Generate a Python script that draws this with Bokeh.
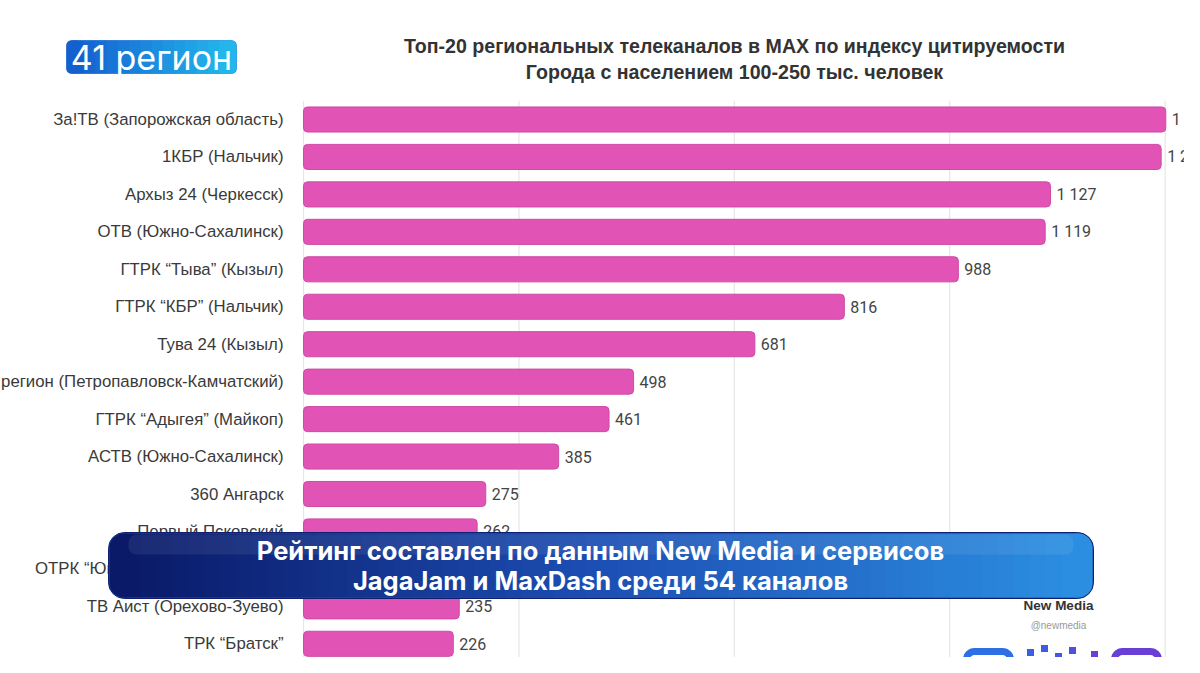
from bokeh.plotting import figure
from bokeh.models import Range1d, ColumnDataSource
from bokeh.core.properties import value
from bokeh.embed import file_html
from bokeh.resources import INLINE

# ---------------- data ----------------
channels = [
    "За!ТВ (Запорожская область)",
    "1КБР (Нальчик)",
    "Архыз 24 (Черкесск)",
    "ОТВ (Южно-Сахалинск)",
    "ГТРК “Тыва” (Кызыл)",
    "ГТРК “КБР” (Нальчик)",
    "Тува 24 (Кызыл)",
    "41 регион (Петропавловск-Камчатский)",
    "ГТРК “Адыгея” (Майкоп)",
    "АСТВ (Южно-Сахалинск)",
    "360 Ангарск",
    "Первый Псковский",
    "ОТРК “Югра” (Ханты-Мансийск)",
    "ТВ Аист (Орехово-Зуево)",
    "ТРК “Братск”",
]
citation_index = [1301, 1294, 1127, 1119, 988, 816, 681, 498, 461, 385, 275, 262, 248, 235, 226]
grid_ticks = [0, 325, 650, 975, 1300]

title_lines = [
    "Топ-20 региональных телеканалов в MAX по индексу цитируемости",
    "Города с населением 100-250 тыс. человек",
]
banner_lines = [
    "Рейтинг составлен по данным New Media и сервисов",
    "JagaJam и MaxDash среди 54 каналов",
]
logo_text = "41 регион"
source_name = "New Media"
source_handle = "@newmedia"

# ---------------- layout helpers (picture px -> data coords) ----------------
PX_PER_UNIT = 0.6628
ROW_PX = 37.45
X0 = 303.0
Y0 = 119.0
W, H = 1184, 657


def dx(px):
    return (px - X0) / PX_PER_UNIT


def dy(py):
    return (py - Y0) / ROW_PX


def lerp(c1, c2, t):
    a = [int(c1[i:i + 2], 16) for i in (1, 3, 5)]
    b = [int(c2[i:i + 2], 16) for i in (1, 3, 5)]
    return "#%02x%02x%02x" % tuple(round(a[k] + (b[k] - a[k]) * t) for k in range(3))


p = figure(
    width=W, height=H,
    x_range=Range1d(dx(0), dx(W)),
    y_range=Range1d(dy(H), dy(0)),
    output_backend="svg", toolbar_location=None,
    min_border=0, outline_line_color=None,
    background_fill_color="white", border_fill_color="white",
)
p.xaxis.visible = False
p.yaxis.visible = False
p.xgrid.visible = False
p.ygrid.visible = False

rows = list(range(len(channels)))
labels = [f"{v:,}".replace(",", " ") for v in citation_index]
src = ColumnDataSource(dict(row=rows, val=citation_index, name=channels, lab=labels))

# grid lines
p.segment(x0=grid_ticks, x1=grid_ticks, y0=[-0.5] * len(grid_ticks), y1=[20] * len(grid_ticks),
          line_color="#e6e6e6", line_width=1.2)

# bars
p.hbar(y="row", left=0, right="val", height=0.67, source=src,
       fill_color="#e154b5", line_color="#cf4aa5", line_width=1, border_radius=4)

# category labels
p.text(x=0, y="row", text="name", source=src, x_offset=-20,
       text_align="right", text_baseline="middle",
       text_font=value("Liberation Sans"), text_font_size="16.8px", text_color="#3a3a3a")

# value labels
p.text(x="val", y="row", text="lab", source=src, x_offset=6,
       text_align="left", text_baseline="middle",
       text_font=value("Roboto"), text_font_size="16px", text_color="#444444")

# title
p.text(x=[dx(734)] * 2, y=[dy(45), dy(71)], text=title_lines,
       text_align="center", text_baseline="middle",
       text_font=value("Liberation Sans"), text_font_style="bold",
       text_font_size="19.6px", text_color="#333333")

# logo
LL, LR, LT, LB = 66, 236, 40, 73
p.quad(left=[dx(LL - 1)], right=[dx(LR + 1)], top=[dy(LT - 1)], bottom=[dy(LB + 1)],
       fill_color="#1668d4", line_color="white", line_width=1.5, border_radius=6)
n = 14
lx = [LL + 6 + (LR - LL - 12) * k / n for k in range(n + 1)]
lcols = [lerp("#1560cf", "#22b6ec", k / (n - 1)) for k in range(n)]
p.quad(left=[dx(LL)], right=[dx(LL + 14)], top=[dy(LT)], bottom=[dy(LB)],
       fill_color=lcols[0], line_color=None, border_radius=5)
p.quad(left=[dx(LR - 14)], right=[dx(LR)], top=[dy(LT)], bottom=[dy(LB)],
       fill_color=lcols[-1], line_color=None, border_radius=5)
p.quad(left=[dx(lx[k]) for k in range(n)], right=[dx(lx[k + 1] + 0.8) for k in range(n)],
       top=[dy(LT)] * n, bottom=[dy(LB)] * n, fill_color=lcols, line_color=None)
p.text(x=[dx(151)], y=[dy(57)], text=[logo_text], text_align="center", text_baseline="middle",
       text_font=value("Inter"), text_font_size="34px", text_color="white")

# source
p.text(x=[dx(1058)], y=[dy(605)], text=[source_name], text_align="center", text_baseline="middle",
       text_font=value("Liberation Sans"), text_font_style="bold", text_font_size="13.5px",
       text_color="#333333")
p.text(x=[dx(1058)], y=[dy(625)], text=[source_handle], text_align="center", text_baseline="middle",
       text_font=value("Liberation Sans"), text_font_size="10px", text_color="#999999")

# QR fragments
p.quad(left=[dx(966), dx(1114)], right=[dx(1010), dx(1158)], top=[dy(651)] * 2, bottom=[dy(700)] * 2,
       fill_color=None, line_color=["#2f6fe6", "#6a3fd6"], line_width=7, border_radius=8)
p.quad(left=[dx(980), dx(1128)], right=[dx(996), dx(1144)], top=[dy(663)] * 2, bottom=[dy(690)] * 2,
       fill_color=["#2f6fe6", "#6a3fd6"], line_color=None, border_radius=3)
qx = [1030, 1044, 1058, 1072, 1086, 1040, 1066, 1094]
qy = [652, 648, 656, 650, 660, 662, 664, 654]
p.rect(x=[dx(v) for v in qx], y=[dy(v) for v in qy], width=7 / PX_PER_UNIT, height=7 / ROW_PX,
       fill_color=[lerp("#3a5fe0", "#6a3fd6", k / 7) for k in range(8)], line_color=None)

# banner overlay
BL, BR, BT, BB = 108, 1093, 532, 598
p.quad(left=[dx(BL)], right=[dx(BR)], top=[dy(BT)], bottom=[dy(BB)],
       fill_color="#1a4fb5", line_color="#0d1f6e", line_width=1, border_radius=16)
m = 60
bx = [BL + 16 + (BR - BL - 32) * k / m for k in range(m + 1)]
cols = []
for k in range(m):
    t = k / (m - 1)
    if t < 0.5:
        cols.append(lerp("#0a1a68", "#1d4fb4", t / 0.5))
    else:
        cols.append(lerp("#1d4fb4", "#2c8ee0", (t - 0.5) / 0.5))
p.quad(left=[dx(BL + 1)], right=[dx(BL + 30)], top=[dy(BT + 1)], bottom=[dy(BB - 1)],
       fill_color=cols[0], line_color=None, border_radius=15)
p.quad(left=[dx(BR - 30)], right=[dx(BR - 1)], top=[dy(BT + 1)], bottom=[dy(BB - 1)],
       fill_color=cols[-1], line_color=None, border_radius=15)
p.quad(left=[dx(bx[k]) for k in range(m)], right=[dx(bx[k + 1] + 0.8) for k in range(m)],
       top=[dy(BT + 1)] * m, bottom=[dy(BB - 1)] * m, fill_color=cols, line_color=None)
p.quad(left=[dx(BL + 20)], right=[dx(BR - 20)], top=[dy(BT + 2)], bottom=[dy(BT + 22)],
       fill_color="white", fill_alpha=0.07, line_color=None, border_radius=8)
p.text(x=[dx(600)] * 2, y=[dy(550), dy(580)], text=banner_lines,
       text_align="center", text_baseline="middle",
       text_font=value("Inter"), text_font_style="bold", text_font_size="25.5px", text_color="white")

open("out.html", "w").write(file_html(p, INLINE))
